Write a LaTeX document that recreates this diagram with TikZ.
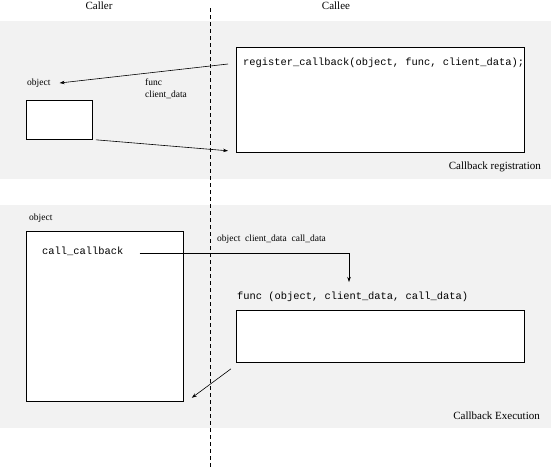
\documentclass[tikz,border=0pt]{standalone}
\usepackage{fontspec}
\setmainfont{Liberation Serif}
\setmonofont{Liberation Mono}
\usetikzlibrary{positioning,arrows.meta,calc}
\definecolor{bandgray}{HTML}{F2F2F2}
\tikzset{
  box/.style={rectangle,draw=black,fill=white,line width=0.8pt,anchor=north west,inner sep=0pt},
  code/.style={font=\fontsize{10.4}{12}\ttfamily,inner sep=0pt,anchor=west},
  lbl/.style={font=\fontsize{9.5}{11}\selectfont,inner sep=0pt,anchor=west},
  bandcaption/.style={font=\fontsize{11}{13}\selectfont,inner sep=0pt,anchor=east},
  head/.style={font=\fontsize{11}{13}\selectfont,inner sep=0pt},
  arr/.style={-{Stealth[length=5pt,width=3.5pt]},line width=0.6pt},
}
\begin{document}
\begin{tikzpicture}[x=1pt,y=-1pt]
  \useasboundingbox (0,0) rectangle (551,467);
  % shaded bands
  \fill[bandgray] (0,21) rectangle (551,179);
  \fill[bandgray] (0,205) rectangle (551,428);
  \draw[dash pattern=on 4pt off 3pt,line width=0.6pt] (210,8) -- (210,467);
  \node[head] (caller) at (99,6) {Caller};
  \node[head] (callee) at (336,6) {Callee};

  % registration
  \node[box,minimum width=288pt,minimum height=105pt] (reg) at (236,47) {};
  \node[code] (regtxt) at (243,63) {register\_callback(object, func, client\_data);};
  \node[lbl] (objA) at (27,83) {object};
  \node[box,minimum width=66pt,minimum height=39pt] (objbox) at (26,100) {};
  \node[lbl] (func) at (145,82) {func};
  \node[lbl,below=5pt of func.south west,anchor=north west] (cdata) {client\_data};
  \draw[arr] ([xshift=-15pt,yshift=-1pt]regtxt.west) -- ([xshift=9pt]objA.east);
  \draw[arr] ([xshift=3pt]objbox.south east) -- ([xshift=-8pt,yshift=2pt]reg.south west);
  \node[bandcaption] (regname) at (541,167) {Callback registration};

  % execution
  \node[lbl] (objB) at (29,218) {object};
  \node[box,minimum width=157pt,minimum height=170pt] (objbig) at (26,231) {};
  \node[code] (cc) at (42,251) {call\_callback};
  \node[lbl] (args) at (217,239) {object \ client\_data \ call\_data};
  \node[code] (fc) at (237,297) {func (object, client\_data, call\_data)};
  \node[box,minimum width=288pt,minimum height=52pt] (fbox) at (236,310) {};
  \coordinate (drop) at (349,282);
  \draw[arr] ([xshift=16pt,yshift=-2pt]cc.east) -| (drop);
  \draw[arr] ([xshift=-5pt,yshift=-6pt]fbox.south west) -- ([xshift=8pt,yshift=4pt]objbig.south east);
  \node[bandcaption] (execname) at (540,416) {Callback Execution};
\end{tikzpicture}
\end{document}
